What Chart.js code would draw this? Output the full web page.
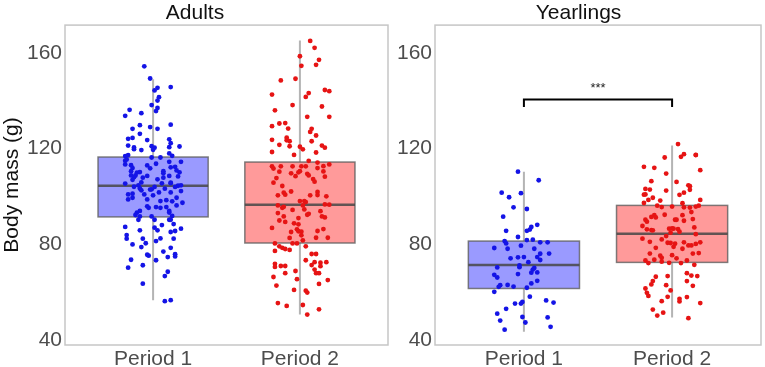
<!DOCTYPE html>
<html>
<head>
<meta charset="utf-8">
<script src="https://cdn.jsdelivr.net/npm/chart.js@4"></script>
<style>
  html, body { margin: 0; padding: 0; background: #fff; }
  #wrap { position: relative; width: 765px; height: 367px; }
  #adultsChart { position: absolute; left: 0; top: 0; }
  #yearlingsChart { position: absolute; left: 392px; top: 0; }
</style>
</head>
<body>
<div id="wrap">
  <canvas id="adultsChart" width="392" height="367"></canvas>
  <canvas id="yearlingsChart" width="373" height="367"></canvas>
</div>
<script>
// categories and axis ticks
const periods = ['Period 1', 'Period 2'];
const yTicks = [40, 80, 120, 160];

// box plot summaries (Period 1, Period 2)
const adultsLower = [56.7, 50.7];
const adultsQ1 = [91.5, 80.6];
const adultsMedian = [104.5, 96.6];
const adultsQ3 = [116.5, 114.4];
const adultsUpper = [149.0, 165.2];

const yearlingsLower = [43.5, 49.5];
const yearlingsQ1 = [61.6, 72.5];
const yearlingsMedian = [71.4, 84.5];
const yearlingsQ3 = [81.4, 96.3];
const yearlingsUpper = [110.4, 121.3];

// significance bracket on the yearlings panel
const sigLabel = '***';
const sigBracketY = 140.5;
const sigBracketEnd = 137.4;
const sigLabelY = 145;

// jittered observations: [horizontal jitter, body mass]
const adultsP1 = [
  [-0.06,154.4],[-0.02,149.3],[0.12,145.7],[0.03,145.4],[0.01,144.3],[0.04,141.5],[0.03,140.1],[-0.01,138.2],
  [0.03,137.0],[0.02,135.7],[-0.16,136.2],[-0.08,134.8],[-0.19,133.7],[0.12,130.0],[-0.09,129.8],[-0.14,128.3],
  [-0.02,129.0],[0.03,128.3],[-0.09,126.2],[-0.17,124.1],[-0.14,124.5],[0.11,123.9],[-0.04,123.6],[0.12,122.3],
  [0.11,120.6],[-0.17,121.3],[-0.13,120.5],[-0.13,119.8],[-0.01,121.0],[0.01,120.4],[0.18,120.9],[-0.08,119.4],
  [0,119.5],[0.11,118.0],[-0.19,116.9],[-0.17,117.3],[-0.01,116.3],[0.05,116.3],[0.13,117.0],[-0.19,115.0],
  [-0.18,115.5],[-0.19,113.4],[-0.15,113.1],[-0.14,111.9],[-0.04,113.0],[0.02,113.7],[0.11,114.5],[0.15,112.4],
  [0.19,114.5],[0.07,110.6],[-0.02,111.8],[0.12,112.2],[-0.15,110.6],[-0.12,108.8],[-0.11,110.0],[-0.09,110.2],
  [-0.15,108.8],[-0.13,108.1],[-0.14,107.0],[-0.07,107.9],[0.03,107.2],[0.07,107.9],[0.07,109.7],[0.11,108.6],
  [0.17,108.4],[0.18,110.1],[0.16,110.9],[-0.04,108.6],[-0.08,105.9],[-0.10,104.7],[-0.19,105.4],[-0.13,104.1],
  [-0.09,103.4],[0.01,104.0],[0.06,105.5],[0.12,105.8],[0.12,105.6],[0.17,104.5],[0.19,104.7],[0.15,104.0],
  [-0.01,103.0],[-0.02,102.9],[-0.08,102.6],[-0.14,101.2],[-0.17,100.9],[-0.17,98.8],[-0.14,99.5],[-0.06,100.9],
  [0,100.5],[0.04,101.7],[0.08,103.3],[0.12,101.7],[0.19,102.3],[0.16,99.5],[-0.04,98.8],[0.05,98.1],
  [0.09,98.5],[0.13,98.0],[0.16,96.3],[0.20,97.4],[-0.03,95.3],[-0.04,95.9],[0.02,95.6],[0.05,95.3],
  [0.09,95.6],[0.11,94.0],[-0.09,94.0],[-0.11,93.3],[-0.12,92.3],[-0.09,91.7],[-0.01,91.7],[0.11,93.3],
  [0.13,91.9],[-0.10,90.3],[0.01,90.3],[0.11,90.3],[0.12,90.3],[-0.19,87.3],[0.01,87.0],[0.14,88.5],
  [0.06,88.1],[0.19,86.6],[-0.09,85.9],[0.03,85.9],[0.12,85.2],[0.15,85.6],[-0.18,83.9],[-0.18,82.4],
  [-0.07,82.4],[0.05,82.5],[0.02,81.4],[0.14,82.4],[-0.05,80.5],[-0.14,80.0],[-0.08,78.9],[0.12,78.6],
  [0.07,77.0],[-0.04,75.7],[-0.03,75.3],[0.15,75.9],[0.15,75.0],[0.10,74.7],[-0.15,73.6],[0.02,73.4],
  [-0.17,70.3],[-0.07,71.3],[0.10,68.6],[0.08,66.8],[-0.07,63.6],[0.08,56.3],[0.12,56.7]
];
const adultsP2 = [
  [0.07,165.0],[0.10,162.1],[0,158.6],[0.01,154.6],[0.13,157.1],[0.11,155.0],[-0.13,148.5],[-0.03,149.2],
  [0.17,144.5],[0.20,144.0],[-0.19,142.6],[0.06,143.2],[0.04,141.6],[-0.05,138.2],[0.15,137.6],[-0.17,136.0],
  [0.20,133.3],[0.05,133.3],[-0.14,130.5],[-0.10,130.7],[-0.19,129.4],[-0.08,128.4],[0.08,128.3],[0.07,127.0],
  [0.11,125.5],[-0.09,124.6],[-0.07,123.1],[-0.19,123.7],[-0.09,123.5],[0.08,123.1],[-0.14,121.6],[-0.07,121.0],
  [0.15,121.3],[0.17,120.4],[0,120.8],[0.02,119.7],[-0.19,118.6],[0.11,118.4],[-0.04,117.4],[0.06,114.9],
  [-0.19,112.6],[-0.18,111.7],[-0.13,112.6],[-0.05,112.6],[0.01,112.6],[0.04,112.6],[0.12,114.2],[0.16,112.7],
  [0.20,113.4],[0.12,111.9],[-0.14,110.4],[-0.06,109.7],[-0.03,108.5],[-0.01,110.1],[0,110.6],[0.05,109.5],
  [0.06,108.8],[0.16,110.5],[0.17,108.3],[-0.16,107.7],[0.09,107.3],[0.10,106.2],[-0.18,105.8],[-0.12,104.4],
  [-0.11,101.6],[-0.15,100.5],[-0.10,100.8],[-0.06,102.1],[0.07,100.5],[0.12,101.9],[0.12,100.6],[0.18,100.1],
  [0,98.1],[0.03,98.1],[0.04,97.7],[-0.15,96.3],[-0.12,95.3],[-0.11,95.7],[-0.05,94.4],[0.02,96.3],
  [0.03,94.6],[0.06,92.8],[0.17,96.7],[0.20,96.6],[0.14,93.9],[0.15,91.7],[0.17,91.3],[-0.15,93.1],
  [-0.11,91.7],[-0.14,90.0],[-0.10,89.4],[-0.01,91.0],[0.05,92.4],[-0.04,88.8],[-0.01,88.4],[-0.19,86.9],
  [-0.06,85.2],[-0.02,86.3],[-0.01,85.5],[0.01,85.3],[0.12,85.6],[0.16,86.4],[0.01,83.8],[-0.07,82.7],
  [0.11,82.8],[0.19,82.8],[0.02,81.7],[-0.17,80.4],[-0.14,79.2],[-0.12,78.6],[-0.10,78.1],[-0.07,77.7],
  [-0.17,77.3],[0.04,79.2],[-0.05,80.4],[-0.02,80.4],[0.08,76.0],[0.11,76.0],[0.04,73.4],[-0.17,71.9],
  [-0.17,70.6],[-0.13,71.0],[-0.10,71.0],[0.08,71.4],[0.10,72.6],[0.14,72.4],[0.18,72.6],[0.14,70.9],
  [0.10,69.5],[-0.10,68.0],[-0.03,68.9],[0.11,68.0],[0.13,68.0],[-0.18,66.4],[-0.02,65.5],[0.19,65.1],
  [-0.16,62.8],[0.13,63.5],[-0.04,61.0],[0.04,60.7],[0.05,59.9],[-0.15,55.5],[-0.09,54.3],[0.02,54.7],
  [0.13,52.9],[0.05,50.7]
];
const yearlingsP1 = [
  [-0.04,110.4],[0.10,106.8],[-0.15,101.6],[-0.02,101.4],[-0.10,99.7],[-0.07,95.5],[0.02,94.8],[-0.14,91.6],
  [0.09,88.2],[0.05,87.3],[0.04,86.2],[0.02,85.7],[-0.12,85.7],[-0.04,83.1],[0.02,81.8],[0.06,82.0],
  [-0.13,81.4],[-0.12,80.4],[0.11,80.9],[0.16,80.9],[-0.20,78.5],[-0.11,78.2],[-0.02,79.5],[0.07,78.2],
  [0.17,76.2],[0.11,76.1],[-0.09,74.2],[-0.04,74.6],[0,74.7],[0.09,74.7],[0.03,72.6],[0.11,73.5],
  [-0.03,71.2],[-0.03,70.5],[-0.18,70.4],[0.07,70.2],[0.06,69.5],[0.09,68.3],[0.05,68.2],[-0.20,67.3],
  [-0.18,66.2],[-0.04,67.6],[0.09,64.8],[0.05,63.7],[-0.16,63.0],[-0.17,62.3],[-0.11,63.1],[-0.07,62.4],
  [0.02,61.9],[-0.20,60.2],[0.04,58.2],[-0.01,56.0],[-0.02,55.3],[-0.06,55.3],[-0.12,53.1],[0.15,56.6],
  [0.20,55.7],[-0.18,51.1],[-0.01,49.7],[-0.16,48.2],[0.01,47.4],[0.16,49.5],[-0.13,44.4],[0.18,45.6]
];
const yearlingsP2 = [
  [0.04,121.9],[0.08,117.7],[0.06,116.6],[0.16,117.3],[0.16,117.4],[-0.05,116.3],[-0.19,112.4],[-0.12,112.0],
  [0.19,111.0],[-0.04,109.6],[-0.14,106.4],[0.03,106.1],[0.11,104.7],[0.12,104.3],[0.12,102.8],[-0.18,103.2],
  [-0.15,102.9],[-0.04,102.5],[-0.19,100.8],[-0.18,100.9],[0.05,100.7],[0.08,101.6],[-0.13,99.5],[-0.16,98.6],
  [-0.08,98.3],[-0.19,97.3],[0.19,98.6],[-0.10,96.2],[-0.07,95.6],[0,95.8],[0.07,97.2],[0.08,95.5],
  [0.12,95.4],[0.16,95.8],[0.18,96.2],[0.13,93.5],[0.07,92.2],[-0.12,92.2],[-0.14,91.5],[-0.11,91.3],
  [-0.05,92.4],[-0.18,90.3],[-0.17,89.5],[0.02,90.3],[0.03,90.3],[0.08,89.9],[0.14,90.6],[-0.20,87.7],
  [-0.17,86.3],[-0.14,86.0],[-0.13,85.9],[-0.02,86.6],[0,86.7],[0.01,86.6],[0.04,86.4],[0.05,85.3],
  [0.15,87.1],[0.16,84.3],[-0.01,84.9],[-0.04,83.5],[-0.20,82.4],[-0.07,82.1],[-0.15,81.1],[-0.03,80.7],
  [-0.01,80.6],[0.02,80.3],[0.08,80.9],[0.11,79.6],[0.13,79.6],[0.16,80.2],[0.19,80.9],[0.01,79.0],
  [-0.11,78.6],[0.07,78.2],[-0.15,76.2],[-0.08,75.3],[0,75.5],[0.03,74.2],[0.14,76.2],[0.18,76.4],
  [-0.07,74.4],[0.10,73.3],[-0.18,73.3],[-0.16,72.2],[-0.12,73.6],[-0.07,72.8],[-0.02,72.3],[0.06,72.2],
  [0.15,71.5],[0.10,68.0],[-0.11,66.5],[-0.03,66.8],[0.13,67.0],[0.17,66.8],[-0.13,64.7],[-0.14,63.3],
  [-0.04,63.0],[0.10,64.7],[0.14,62.7],[-0.18,61.6],[-0.17,59.8],[-0.16,58.5],[-0.01,60.8],[-0.03,58.1],
  [0.10,58.0],[-0.07,56.3],[0.05,57.3],[0.05,56.2],[0.19,55.5],[-0.13,52.8],[-0.06,51.5],[-0.10,50.3],
  [0.11,49.2]
];

const boxHalfWidth = 0.375;
const boxFills = ['#9a9aff', '#ff9a9a'];
const pointColors = ['#1414e6', '#e61414'];
const textFont = "'Liberation Sans', Arial, sans-serif";

// frame round the plot area
const framePlugin = {
    id: 'frame',
    beforeDatasetsDraw(chart) {
        const { ctx, chartArea: a } = chart;
        ctx.save();
        ctx.strokeStyle = '#c6c6c6';
        ctx.lineWidth = 1.5;
        ctx.strokeRect(a.left, a.top, a.right - a.left, a.bottom - a.top);
        ctx.restore();
    }
};

function boxPlugin(stats) {
    return {
        id: 'boxes',
        beforeDatasetsDraw(chart) {
            const { ctx, scales: { x, y } } = chart;
            ctx.save();
            stats.q1.forEach((q1, i) => {
                const pos = i + 1;
                const cx = x.getPixelForValue(pos);
                const left = x.getPixelForValue(pos - boxHalfWidth);
                const right = x.getPixelForValue(pos + boxHalfWidth);
                const top = y.getPixelForValue(stats.q3[i]);
                const bottom = y.getPixelForValue(q1);

                // whiskers
                ctx.strokeStyle = '#b4b4b4';
                ctx.lineWidth = 2;
                ctx.beginPath();
                ctx.moveTo(cx, y.getPixelForValue(stats.lower[i]));
                ctx.lineTo(cx, bottom);
                ctx.moveTo(cx, top);
                ctx.lineTo(cx, y.getPixelForValue(stats.upper[i]));
                ctx.stroke();

                // box
                ctx.fillStyle = boxFills[i];
                ctx.fillRect(left, top, right - left, bottom - top);
                ctx.strokeStyle = 'rgba(95,95,95,0.8)';
                ctx.lineWidth = 1.5;
                ctx.strokeRect(left, top, right - left, bottom - top);

                // median
                const my = y.getPixelForValue(stats.median[i]);
                ctx.strokeStyle = 'rgba(70,70,70,0.85)';
                ctx.lineWidth = 2.5;
                ctx.beginPath();
                ctx.moveTo(left, my);
                ctx.lineTo(right, my);
                ctx.stroke();
            });
            ctx.restore();
        }
    };
}

const starsPlugin = {
    id: 'stars',
    afterDatasetsDraw(chart) {
        const { ctx, scales: { x, y } } = chart;
        ctx.save();
        ctx.fillStyle = '#222';
        ctx.font = '13px ' + textFont;
        ctx.textAlign = 'center';
        ctx.textBaseline = 'middle';
        ctx.fillText(sigLabel, x.getPixelForValue(1.5), y.getPixelForValue(sigLabelY));
        ctx.restore();
    }
};

function jitterData(points, pos) {
    return points.map(([dx, v]) => ({ x: pos + dx, y: v }));
}

function makePanel(canvasId, title, pts1, pts2, stats, axisWidth, yTitle, withBracket) {
    const datasets = [
        {
            data: jitterData(pts1, 1),
            backgroundColor: pointColors[0],
            pointRadius: 2.4,
            pointBorderWidth: 0
        },
        {
            data: jitterData(pts2, 2),
            backgroundColor: pointColors[1],
            pointRadius: 2.4,
            pointBorderWidth: 0
        }
    ];
    const plugins = [framePlugin, boxPlugin(stats)];

    if (withBracket) {
        datasets.push({
            data: [
                { x: 1, y: sigBracketEnd },
                { x: 1, y: sigBracketY },
                { x: 2, y: sigBracketY },
                { x: 2, y: sigBracketEnd }
            ],
            showLine: true,
            borderColor: '#000',
            borderWidth: 2,
            pointRadius: 0,
            fill: false
        });
        plugins.push(starsPlugin);
    }

    return new Chart(document.getElementById(canvasId), {
        type: 'scatter',
        data: { datasets: datasets },
        plugins: plugins,
        options: {
            responsive: false,
            animation: false,
            devicePixelRatio: 1,
            layout: { padding: { right: withBracket ? 0 : 2 } },
            plugins: {
                legend: { display: false },
                tooltip: { enabled: false },
                title: {
                    display: true,
                    text: title,
                    color: '#111',
                    font: { family: textFont, size: 21, weight: 'normal', lineHeight: 1.1 },
                    padding: { top: 2, bottom: 0 }
                }
            },
            scales: {
                x: {
                    type: 'linear',
                    min: 0.4,
                    max: 2.6,
                    grid: { display: false, drawTicks: false },
                    border: { display: false },
                    afterBuildTicks: (s) => { s.ticks = periods.map((p, i) => ({ value: i + 1 })); },
                    afterFit: (s) => { s.height = 22; },
                    ticks: {
                        callback: (v, i) => periods[i],
                        color: '#4d4d4d',
                        font: { family: textFont, size: 21 },
                        padding: 2,
                        maxRotation: 0,
                        autoSkip: false
                    }
                },
                y: {
                    min: 38,
                    max: 171.6,
                    grid: { display: false, drawTicks: false },
                    border: { display: false },
                    afterBuildTicks: (s) => { s.ticks = yTicks.map(v => ({ value: v })); },
                    afterFit: (s) => { s.width = axisWidth; },
                    ticks: {
                        color: '#4d4d4d',
                        font: { family: textFont, size: 21 },
                        padding: 3
                    },
                    title: {
                        display: !!yTitle,
                        text: yTitle,
                        color: '#111',
                        font: { family: textFont, size: 21 },
                        padding: { top: 0, bottom: 0 }
                    }
                }
            }
        }
    });
}

makePanel('adultsChart', 'Adults', adultsP1, adultsP2, {
    lower: adultsLower, q1: adultsQ1, median: adultsMedian, q3: adultsQ3, upper: adultsUpper
}, 65, 'Body mass (g)', false);

makePanel('yearlingsChart', 'Yearlings', yearlingsP1, yearlingsP2, {
    lower: yearlingsLower, q1: yearlingsQ1, median: yearlingsMedian, q3: yearlingsQ3, upper: yearlingsUpper
}, 43, '', true);
</script>
</body>
</html>
